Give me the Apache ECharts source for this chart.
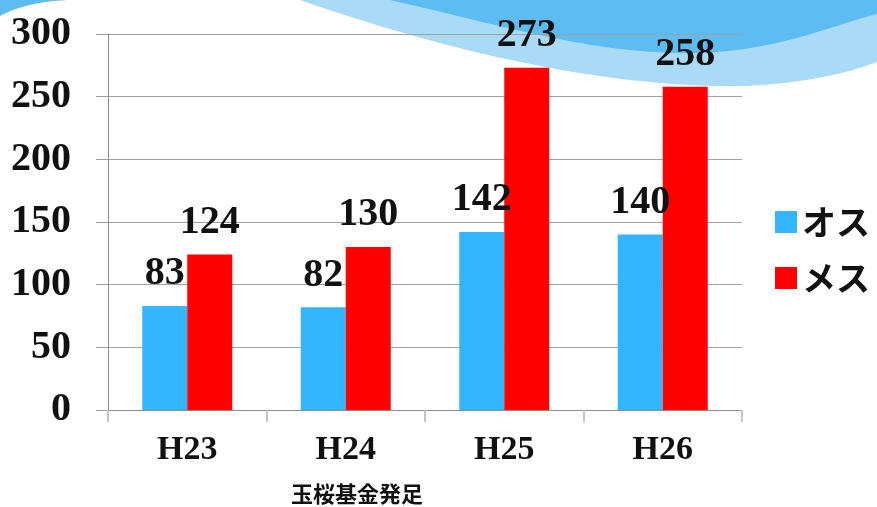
<!DOCTYPE html>
<html>
<head>
<meta charset="utf-8">
<script src="https://cdn.jsdelivr.net/npm/echarts@6/dist/echarts.min.js"></script>
<style>
    html, body {margin: 0; padding: 0; background: #fff;}
    #chart-main {width: 877px; height: 507px;}
</style>
</head>
<body>
<div id="chart-main"></div>
<script>
let categories = ['H23', 'H24', 'H25', 'H26'];
let dataMale = [83, 82, 142, 140];
let dataFemale = [124, 130, 273, 258];
let seriesNames = ['オス', 'メス'];
let noteText = '玉桜基金発足';

let fontSerif = "'Liberation Serif', 'Times New Roman', 'Noto Sans CJK JP', serif";
let myChart = echarts.init(document.getElementById('chart-main'));

// sample a cubic bezier into polygon points (wave decoration only)
function curvePoints(p0, p1, p2, p3) {
    let pts = [];
    for (let i = 0; i <= 24; i++) {
        let t = i / 24, u = 1 - t;
        pts.push([
            u * u * u * p0[0] + 3 * u * u * t * p1[0] + 3 * u * t * t * p2[0] + t * t * t * p3[0],
            u * u * u * p0[1] + 3 * u * u * t * p1[1] + 3 * u * t * t * p2[1] + t * t * t * p3[1]
        ]);
    }
    return pts;
}

let waveLight = curvePoints([300, 0], [400, 35], [560, 82], [713, 86])
    .concat(curvePoints([713, 86], [780, 88], [840, 76], [877, 62]))
    .concat([[877, 0]]);
let waveDark = curvePoints([390, 0], [500, 25], [600, 56], [700, 53])
    .concat(curvePoints([700, 53], [780, 50], [830, 26], [877, 14]))
    .concat([[877, 0]]);
let waveCorner = curvePoints([0, 16], [18, 6], [45, 0], [75, 0]).concat([[0, 0]]);

let option = {
    animation: false,
    backgroundColor: '#ffffff',
    textStyle: {
        fontFamily: fontSerif
    },
    graphic: [
        {type: 'polygon', z: -10, shape: {points: waveLight}, style: {fill: '#a9dbf6'}},
        {type: 'polygon', z: -9, shape: {points: waveDark}, style: {fill: '#5dbdf2'}},
        {type: 'polygon', z: -9, shape: {points: waveCorner}, style: {fill: '#5dbdf2'}},
        {
            type: 'text',
            x: 357,
            y: 494,
            style: {
                text: noteText,
                fontSize: 22,
                fontWeight: 'bold',
                fontFamily: "'Noto Sans CJK JP', sans-serif",
                fill: '#111',
                align: 'center',
                verticalAlign: 'middle'
            }
        }
    ],
    legend: {
        orient: 'vertical',
        left: 770,
        top: 200,
        itemWidth: 22,
        itemHeight: 22,
        itemGap: 22,
        icon: 'rect',
        textStyle: {
            fontSize: 34,
            fontWeight: 'bold',
            color: '#111',
            fontFamily: "'Noto Sans CJK JP', sans-serif"
        },
        data: seriesNames
    },
    grid: {
        left: 108,
        right: 135,
        top: 34,
        bottom: 97
    },
    xAxis: {
        type: 'category',
        data: categories,
        axisLine: {show: true, lineStyle: {color: '#8c8c8c', width: 1}},
        axisTick: {show: true, length: 12, lineStyle: {color: '#c4c4c4', width: 2}},
        axisLabel: {
            margin: 23,
            fontSize: 34,
            fontWeight: 'bold',
            color: '#111',
            fontFamily: fontSerif
        }
    },
    yAxis: {
        type: 'value',
        min: 0,
        max: 300,
        interval: 50,
        axisLine: {show: true, lineStyle: {color: '#8c8c8c', width: 1}},
        axisTick: {show: true, length: 12, lineStyle: {color: '#9a9a9a', width: 1}},
        splitLine: {show: true, lineStyle: {color: '#a0a0a0', width: 1}},
        axisLabel: {
            margin: 37,
            fontSize: 40,
            fontWeight: 'bold',
            color: '#111',
            fontFamily: fontSerif
        }
    },
    series: [
        {
            name: seriesNames[0],
            type: 'bar',
            data: dataMale,
            barWidth: 45,
            barGap: '0%',
            itemStyle: {color: '#33b5ff'},
            label: {
                show: true,
                position: 'top',
                distance: 12,
                fontSize: 40,
                fontWeight: 'bold',
                color: '#111',
                fontFamily: fontSerif
            }
        },
        {
            name: seriesNames[1],
            type: 'bar',
            data: dataFemale,
            barWidth: 45,
            barGap: '0%',
            itemStyle: {color: '#ff0000'},
            label: {
                show: true,
                position: 'top',
                distance: 12,
                fontSize: 40,
                fontWeight: 'bold',
                color: '#111',
                fontFamily: fontSerif
            }
        }
    ]
};
option && myChart.setOption(option);
</script>
</body>
</html>
